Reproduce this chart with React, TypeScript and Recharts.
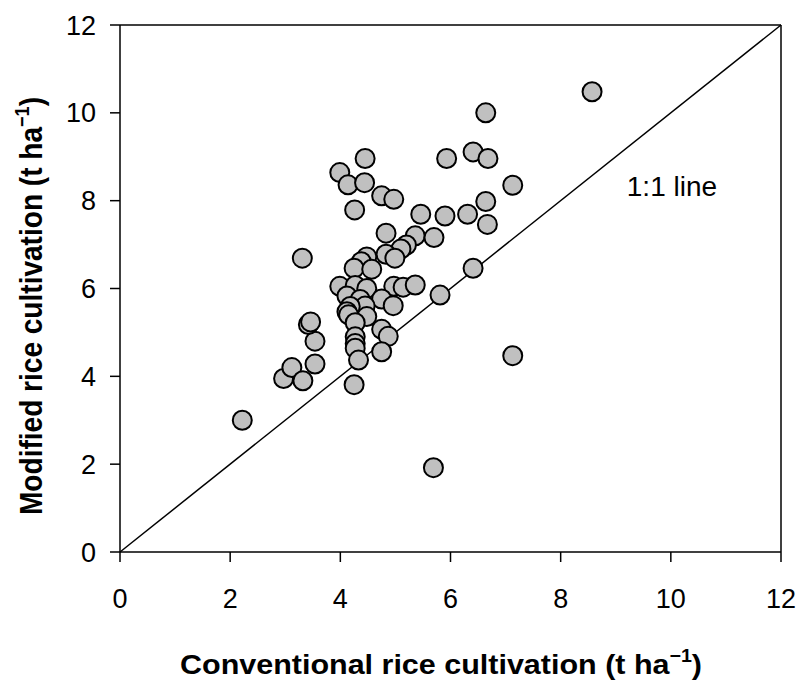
import {
  ScatterChart,
  Scatter,
  XAxis,
  YAxis,
  ReferenceLine,
  ReferenceDot,
  Label,
} from "recharts";

// yields per site, t/ha
const conventional = [
  2.22, 2.97, 3.12, 3.32, 3.54, 3.54, 3.42, 3.46, 3.31, 3.99, 4.14, 4.45, 4.44,
  4.75, 4.97, 4.26, 4.83, 5.36, 5.7, 5.2, 5.1, 4.83, 4.99, 4.48, 4.38, 4.25,
  4.57, 3.99, 4.27, 4.48, 4.97, 5.14, 5.36, 4.12, 4.36, 4.75, 4.96, 4.45, 4.18,
  4.12, 4.48, 4.15, 4.27, 4.75, 4.87, 4.27, 4.27, 4.27, 4.75, 4.33, 4.25, 5.69,
  5.81, 6.41, 7.13, 5.46, 5.9, 6.31, 6.67, 6.64, 7.13, 5.93, 6.41, 6.68, 6.64,
  8.57,
];
const modified = [
  3.0, 3.95, 4.2, 3.9, 4.28, 4.8, 5.18, 5.24, 6.69, 8.64, 8.36, 8.96, 8.41,
  8.11, 8.03, 7.79, 7.26, 7.2, 7.16, 6.99, 6.9, 6.78, 6.69, 6.72, 6.61, 6.46,
  6.44, 6.05, 6.07, 6.0, 6.05, 6.03, 6.08, 5.83, 5.75, 5.76, 5.61, 5.6, 5.59,
  5.47, 5.36, 5.4, 5.22, 5.07, 4.91, 4.9, 4.75, 4.64, 4.56, 4.37, 3.81, 1.92,
  5.85, 6.46, 4.47, 7.69, 7.65, 7.69, 7.46, 7.98, 8.35, 8.96, 9.11, 8.96, 10.0,
  10.48,
];
const axisTicks = [0, 2, 4, 6, 8, 10, 12];

const points = conventional.map((x, i) => ({ x, y: modified[i] }));

const FONT = "'Liberation Sans', Arial, sans-serif";
const TICK_STYLE = { fontSize: 27, fill: "#000", fontFamily: FONT };

const Dot = (props: any) => (
  <circle
    cx={props.cx}
    cy={props.cy}
    r={9.5}
    fill="#c0c0c0"
    stroke="#000"
    strokeWidth={2}
  />
);

const XTitle = () => (
  <text
    x={441}
    y={674}
    textAnchor="middle"
    textLength={522}
    lengthAdjust="spacingAndGlyphs"
    fontFamily={FONT}
    fontWeight="bold"
    fontSize={28}
    fill="#000"
  >
    Conventional rice cultivation (t ha
    <tspan dy={-12} fontSize={18}>
      −1
    </tspan>
    <tspan dy={12}>)</tspan>
  </text>
);

const YTitle = () => (
  <text
    x={42}
    y={306}
    transform="rotate(-90 42 306)"
    textAnchor="middle"
    textLength={418}
    lengthAdjust="spacingAndGlyphs"
    fontFamily={FONT}
    fontWeight="bold"
    fontSize={31}
    fill="#000"
  >
    Modified rice cultivation (t ha
    <tspan dy={-13} fontSize={20}>
      −1
    </tspan>
    <tspan dy={13}>)</tspan>
  </text>
);

const LineNote = ({ viewBox }: any) => (
  <text
    x={viewBox.x}
    y={viewBox.y}
    textAnchor="middle"
    dominantBaseline="central"
    fontFamily={FONT}
    fontSize={28}
    fill="#000"
  >
    1:1 line
  </text>
);

export default function App() {
  return (
    <div style={{ position: "absolute", left: 0, top: 0, background: "#fff" }}>
      <ScatterChart
        width={802}
        height={681}
        margin={{ top: 25, right: 21, bottom: 89, left: 60 }}
      >
        <XAxis
          type="number"
          dataKey="x"
          domain={[0, 12]}
          ticks={axisTicks}
          allowDataOverflow
          height={40}
          tick={TICK_STYLE}
          tickSize={10}
          tickMargin={27}
          stroke="#000"
          strokeWidth={1.5}
        >
          <Label content={<XTitle />} />
        </XAxis>
        <YAxis
          type="number"
          dataKey="y"
          domain={[0, 12]}
          ticks={axisTicks}
          allowDataOverflow
          width={60}
          tick={TICK_STYLE}
          tickSize={10}
          tickMargin={14}
          stroke="#000"
          strokeWidth={1.5}
        >
          <Label content={<YTitle />} />
        </YAxis>
        <ReferenceLine y={12} stroke="#000" strokeWidth={1.5} />
        <ReferenceLine x={12} stroke="#000" strokeWidth={1.5} />
        <Scatter data={points} shape={<Dot />} isAnimationActive={false} />
        <ReferenceLine
          segment={[
            { x: 0, y: 0 },
            { x: 12, y: 12 },
          ]}
          stroke="#000"
          strokeWidth={1.5}
        />
        <ReferenceDot
          x={10.02}
          y={8.33}
          r={0}
          fill="none"
          stroke="none"
          label={<LineNote />}
        />
      </ScatterChart>
    </div>
  );
}
